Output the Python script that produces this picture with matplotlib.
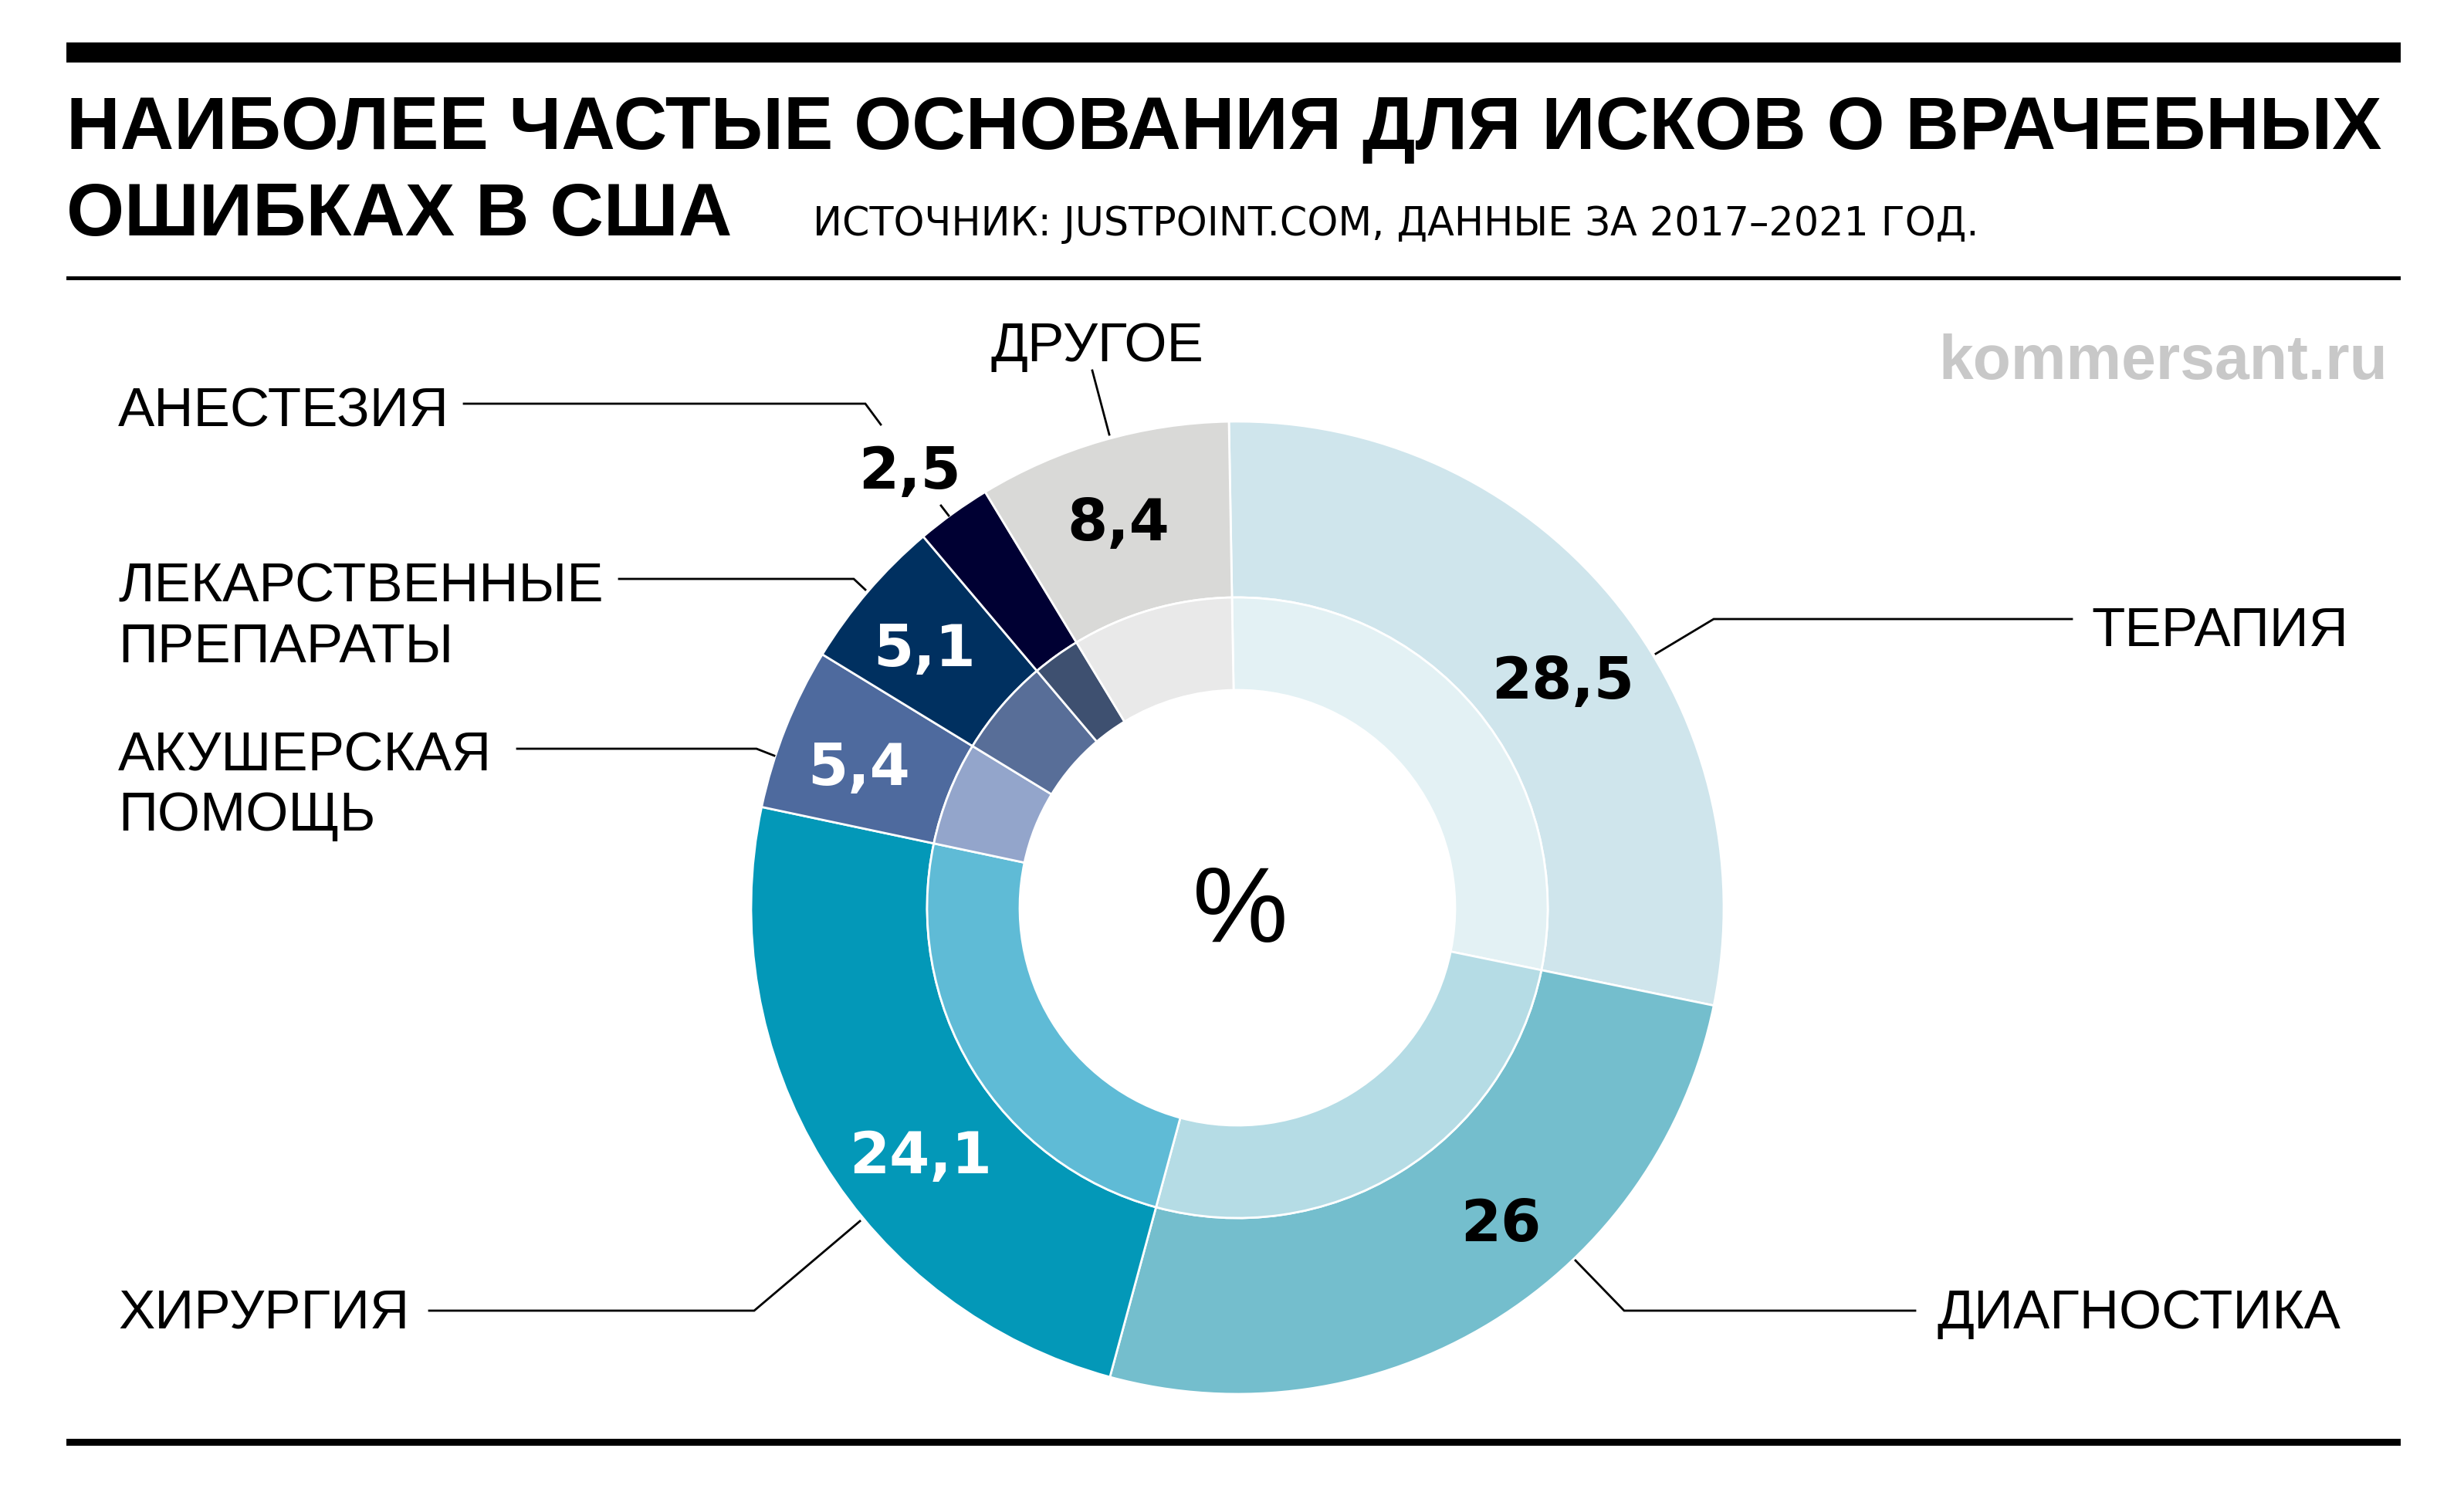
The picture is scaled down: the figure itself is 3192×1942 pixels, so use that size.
import matplotlib
matplotlib.use('Agg')
import matplotlib.pyplot as plt
from matplotlib.patches import Rectangle

W, H = 3192, 1942

categories = ['ТЕРАПИЯ', 'ДИАГНОСТИКА', 'ХИРУРГИЯ', 'АКУШЕРСКАЯ\nПОМОЩЬ',
              'ЛЕКАРСТВЕННЫЕ\nПРЕПАРАТЫ', 'АНЕСТЕЗИЯ', 'ДРУГОЕ']
values = [28.5, 26, 24.1, 5.4, 5.1, 2.5, 8.4]
value_labels = ['28,5', '26', '24,1', '5,4', '5,1', '2,5', '8,4']
outer_colors = ['#CFE5EC', '#74BECD', '#0398B8', '#4E6A9E', '#003060', '#000033', '#D9D9D7']
inner_colors = ['#E3F1F4', '#B5DCE5', '#5FBBD6', '#93A5CB', '#586E98', '#3E5070', '#E9E9E9']

fig = plt.figure(figsize=(W / 100, H / 100), dpi=100)
fig.patch.set_facecolor('white')
ax = fig.add_axes([0, 0, 1, 1])


def Y(y):
    # pixel row (from top) -> data y
    return H - y


cx, cy = 1603, Y(1176)
ax.pie(values, radius=630, center=(cx, cy), startangle=91, counterclock=False,
       colors=outer_colors, wedgeprops=dict(width=228, edgecolor='white', linewidth=2))
ax.pie(values, radius=402, center=(cx, cy), startangle=91, counterclock=False,
       colors=inner_colors, wedgeprops=dict(width=120, edgecolor='white', linewidth=2))

ax.set_xlim(0, W)
ax.set_ylim(0, H)
ax.set_aspect('equal')
ax.axis('off')

# rules
ax.add_patch(Rectangle((86, Y(81)), 3024, 26, facecolor='black', edgecolor='none'))
ax.add_patch(Rectangle((86, Y(363)), 3024, 5, facecolor='black', edgecolor='none'))
ax.add_patch(Rectangle((86, Y(1873)), 3024, 9, facecolor='black', edgecolor='none'))

# title, sized so the first line spans the width of the rule
t1 = ax.text(86, Y(193), 'НАИБОЛЕЕ ЧАСТЫЕ ОСНОВАНИЯ ДЛЯ ИСКОВ О ВРАЧЕБНЫХ', fontsize=68,
             fontweight='bold', family='Liberation Sans', va='baseline', ha='left', color='black')
fig.canvas.draw()
w1 = t1.get_window_extent().width
title_fs = 68 * 3003 / w1
t1.set_fontsize(title_fs)
ax.text(86, Y(305), 'ОШИБКАХ В США', fontsize=title_fs,
        fontweight='bold', family='Liberation Sans', va='baseline', ha='left', color='black')
ax.text(1053, Y(305), 'ИСТОЧНИК: JUSTPOINT.COM, ДАННЫЕ ЗА 2017–2021 ГОД.', fontsize=36.5,
        family='DejaVu Sans', va='baseline', ha='left', color='black')

ax.text(3093, Y(491), 'kommersant.ru', fontsize=58, fontweight='bold',
        family='Liberation Sans', va='baseline', ha='right', color='#C8C8C8')

# centre sign
ax.text(1607, Y(1184), '%', fontsize=100, family='Liberation Sans',
        va='center', ha='center', color='black')

# value labels
val_pos = [(2025, 905), (1944, 1608), (1193, 1520), (1113, 1017),
           (1198, 863), (1178, 633), (1449, 700)]
val_colors = ['black', 'black', 'white', 'white', 'white', 'black', 'black']
for lab, (x, y), c in zip(value_labels, val_pos, val_colors):
    ax.text(x, Y(y), lab, fontsize=54, fontweight='bold', family='DejaVu Sans',
            va='baseline', ha='center', color=c)

# category labels
lab_fs = 51
ax.text(2709, Y(837), categories[0], fontsize=lab_fs, family='Liberation Sans',
        va='baseline', ha='left')
ax.text(2509, Y(1721), categories[1], fontsize=lab_fs, family='Liberation Sans',
        va='baseline', ha='left')
ax.text(153, Y(1720), categories[2], fontsize=lab_fs, family='Liberation Sans',
        va='baseline', ha='left')
for i, line in enumerate(categories[3].split('\n')):
    ax.text(153, Y(998 + i * 78), line, fontsize=lab_fs, family='Liberation Sans',
            va='baseline', ha='left')
for i, line in enumerate(categories[4].split('\n')):
    ax.text(153, Y(779 + i * 79), line, fontsize=lab_fs, family='Liberation Sans',
            va='baseline', ha='left')
ax.text(153, Y(552), categories[5], fontsize=lab_fs, family='Liberation Sans',
        va='baseline', ha='left')
ax.text(1421, Y(468), categories[6], fontsize=lab_fs, family='Liberation Sans',
        va='baseline', ha='center')

# leader lines
leaders = [
    [(2684, 802), (2220, 802), (2145, 847)],
    [(2481, 1698), (2104, 1698), (2041, 1633)],
    [(556, 1698), (977, 1698), (1114, 1582)],
    [(670, 970), (980, 970), (1003, 979)],
    [(802, 750), (1106, 750), (1121, 764)],
    [(601, 523), (1121, 523), (1141, 550)],
    [(1219, 655), (1229, 668)],
    [(1415, 480), (1437, 563)],
]
for pts in leaders:
    ax.plot([p[0] for p in pts], [Y(p[1]) for p in pts], color='black', lw=2,
            solid_joinstyle='miter')

fig.savefig('out.png', dpi=100, facecolor='white')
